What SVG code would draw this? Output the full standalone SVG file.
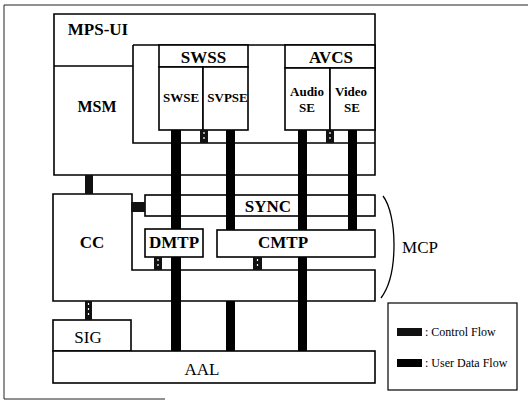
<svg xmlns="http://www.w3.org/2000/svg" width="528" height="401" viewBox="0 0 528 401">
<style>
.bx{fill:#fff;stroke:#000;stroke-width:1.6}
.ln{fill:none;stroke:#000;stroke-width:1.6}
.t{font-family:"Liberation Serif","Times New Roman",serif;font-weight:bold;fill:#000;text-anchor:middle}
.r{font-weight:normal}
.lg{font-family:"Liberation Serif","Times New Roman",serif;font-size:12px;fill:#000}
.data{fill:#000}
.ctrl{fill:#111}
.fleck{stroke:#fff;stroke-width:1.2;stroke-dasharray:2 3}
</style>
<rect width="528" height="401" fill="#fff"/>
<path d="M4,5 H528 M4,5 V399 M4,399 H165" stroke="#222" stroke-width="1" fill="none"/>

<g id="mps-ui">
  <path class="bx" d="M54,14 H375 V175 H54 Z"/>
  <path class="ln" d="M54,66 H133 M133,45 H375 M133,45 V143 H375"/>
  <text class="t" x="98" y="35" font-size="17">MPS-UI</text>
</g>
<g id="msm">
  <text class="t" x="97" y="112" font-size="16">MSM</text>
</g>
<g id="swss">
  <rect class="bx" x="159" y="45" width="89" height="22"/>
  <text class="t" x="203.5" y="63" font-size="17">SWSS</text>
</g>
<g id="swse">
  <rect class="bx" x="159" y="67" width="44" height="63"/>
  <text class="t" x="181" y="102" font-size="13">SWSE</text>
</g>
<g id="svpse">
  <rect class="bx" x="203" y="67" width="45" height="63"/>
  <text class="t" x="227.5" y="102" font-size="13">SVPSE</text>
</g>
<g id="avcs">
  <rect class="bx" x="285" y="45" width="90" height="23"/>
  <text class="t" x="331" y="63" font-size="17">AVCS</text>
</g>
<g id="audio-se">
  <rect class="bx" x="285" y="68" width="45" height="62"/>
  <text class="t" x="307" y="96" font-size="13">Audio</text>
  <text class="t" x="307" y="112" font-size="13">SE</text>
</g>
<g id="video-se">
  <rect class="bx" x="330" y="68" width="45" height="62"/>
  <text class="t" x="351" y="96" font-size="13">Video</text>
  <text class="t" x="352" y="112" font-size="13">SE</text>
</g>
<g id="cc">
  <path class="bx" d="M53,194 H132 V270 H375 V301 H53 Z"/>
  <text class="t" x="92" y="248" font-size="17">CC</text>
</g>
<g id="sync">
  <rect class="bx" x="145" y="195" width="230" height="21"/>
  <text class="t" x="268" y="212" font-size="17">SYNC</text>
</g>
<g id="dmtp">
  <rect class="bx" x="145" y="229" width="58" height="28"/>
  <text class="t" x="174" y="248" font-size="17">DMTP</text>
</g>
<g id="cmtp">
  <rect class="bx" x="217" y="230" width="158" height="27"/>
  <text class="t" x="283" y="248" font-size="17">CMTP</text>
</g>
<g id="mcp">
  <path d="M383,196 C397,214 399,274 381,298" fill="none" stroke="#000" stroke-width="1.3"/>
  <text class="t r" x="420" y="253" font-size="17">MCP</text>
</g>
<g id="sig">
  <rect class="bx" x="53" y="320" width="78" height="31"/>
  <text class="t r" x="88" y="343" font-size="17">SIG</text>
</g>
<g id="aal">
  <rect class="bx" x="53" y="351" width="322" height="32"/>
  <text class="t r" x="202" y="375" font-size="17">AAL</text>
</g>

<g id="connectors">
  <rect class="data" x="171" y="130" width="10" height="99"/>
  <rect class="data" x="171" y="257" width="10" height="94"/>
  <rect class="data" x="226" y="130" width="9" height="100"/>
  <rect class="data" x="226" y="301" width="9" height="50"/>
  <rect class="data" x="298" y="130" width="9" height="100"/>
  <rect class="data" x="298" y="257" width="9" height="94"/>
  <rect class="data" x="348" y="130" width="9" height="100"/>
  <rect class="ctrl" x="85" y="175" width="8" height="19"/>
  <rect class="ctrl" x="131" y="202" width="14" height="10"/>
  <rect class="ctrl" x="85" y="301" width="7" height="19"/>
  <line class="fleck" x1="88.5" y1="303" x2="88.5" y2="318"/>
  <rect class="ctrl" x="200" y="130" width="8" height="13"/>
  <line class="fleck" x1="204" y1="132" x2="204" y2="141"/>
  <rect class="ctrl" x="326" y="130" width="8" height="13"/>
  <line class="fleck" x1="330" y1="132" x2="330" y2="141"/>
  <rect class="ctrl" x="154" y="257" width="8" height="13"/>
  <line class="fleck" x1="158" y1="259" x2="158" y2="268"/>
  <rect class="ctrl" x="253" y="257" width="9" height="13"/>
  <line class="fleck" x1="257.5" y1="259" x2="257.5" y2="268"/>
</g>

<g id="legend">
  <rect x="388" y="303" width="129" height="87" fill="#fff" stroke="#000" stroke-width="1.2"/>
  <rect class="ctrl" x="397" y="328" width="25" height="8"/>
  <text class="lg" x="425" y="336">: Control Flow</text>
  <rect class="data" x="397" y="359" width="25" height="8"/>
  <text class="lg" x="425" y="367">: User Data Flow</text>
</g>
</svg>
